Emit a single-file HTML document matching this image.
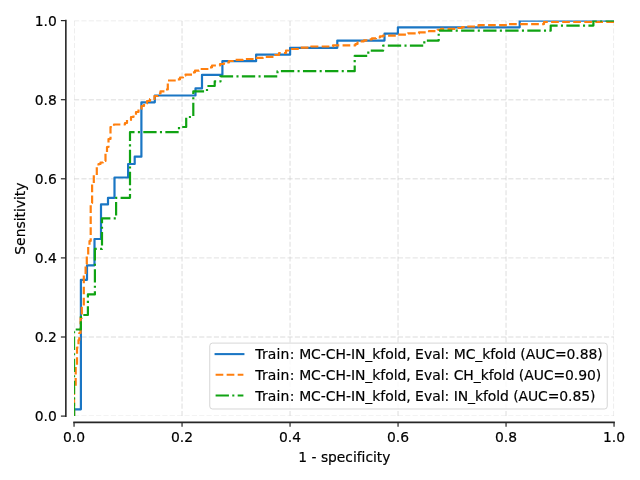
<!DOCTYPE html>
<html lang="en">
<head>
<meta charset="utf-8">
<title>ROC curves</title>
<style>
html,body{margin:0;padding:0;background:#ffffff;}
body{width:640px;height:480px;overflow:hidden;position:relative;font-family:"DejaVu Sans","Liberation Sans",sans-serif;}
</style>
</head>
<body>
<svg width="640" height="480" viewBox="0 0 640 480" style="position:absolute;left:0;top:0;display:block">
<rect x="0" y="0" width="640" height="480" fill="#ffffff"/>
<defs><clipPath id="ax"><rect x="74.05" y="20.6" width="540.0" height="395.50"/></clipPath></defs>
<g clip-path="url(#ax)">
<g fill="none" stroke="#cccccc" stroke-opacity="0.48" stroke-width="1.39" stroke-dasharray="5.14 2.22"><path d="M74.05 416.10 L74.05 20.60"/><path d="M74.05 416.10 L614.05 416.10"/><path d="M182.05 416.10 L182.05 20.60"/><path d="M74.05 337.00 L614.05 337.00"/><path d="M290.05 416.10 L290.05 20.60"/><path d="M74.05 257.90 L614.05 257.90"/><path d="M398.05 416.10 L398.05 20.60"/><path d="M74.05 178.80 L614.05 178.80"/><path d="M506.05 416.10 L506.05 20.60"/><path d="M74.05 99.70 L614.05 99.70"/><path d="M614.05 416.10 L614.05 20.60"/><path d="M74.05 20.60 L614.05 20.60"/></g>
<path d="M74.05 416.10 L74.05 409.30 L80.90 409.30 L80.90 279.80 L87.00 279.80 L87.00 265.30 L94.50 265.30 L94.50 239.00 L101.00 239.00 L101.00 204.40 L108.00 204.40 L108.00 197.80 L114.50 197.80 L114.50 177.50 L128.10 177.50 L128.10 164.00 L134.70 164.00 L134.70 156.70 L141.40 156.70 L141.40 102.30 L154.80 102.30 L154.80 95.50 L195.50 95.50 L195.50 88.40 L202.00 88.40 L202.00 74.80 L222.40 74.80 L222.40 61.20 L256.10 61.20 L256.10 54.70 L290.10 54.70 L290.10 47.80 L337.30 47.80 L337.30 40.60 L384.50 40.60 L384.50 33.70 L397.90 33.70 L397.90 27.30 L519.70 27.30 L519.70 20.60 L614.05 20.60" fill="none" stroke="#1a76c4" stroke-width="2.2" stroke-linejoin="round" stroke-linecap="square"/>
<path d="M74.05 416.10 L74.05 386.00 L75.70 386.00 L75.70 366.00 L77.00 366.00 L77.00 347.50 L78.50 347.50 L78.50 340.00 L79.30 340.00 L79.30 333.00 L80.60 333.00 L80.60 318.00 L81.80 318.00 L81.80 306.00 L83.80 306.00 L83.80 275.00 L85.60 275.00 L85.60 264.00 L86.80 264.00 L86.80 255.00 L88.20 255.00 L88.20 246.00 L89.50 246.00 L89.50 241.00 L90.70 241.00 L90.70 203.00 L92.10 203.00 L92.10 183.00 L93.80 183.00 L93.80 175.00 L96.80 175.00 L96.80 166.00 L98.50 166.00 L98.50 164.00 L100.50 164.00 L100.50 162.50 L103.00 162.50 L103.00 161.00 L105.50 161.00 L105.50 152.00 L107.00 152.00 L107.00 147.00 L108.50 147.00 L108.50 139.00 L110.50 139.00 L110.50 127.00 L114.00 127.00 L114.00 124.50 L125.00 124.50 L125.00 123.00 L127.00 123.00 L127.00 120.00 L131.00 120.00 L131.00 117.00 L133.50 117.00 L133.50 115.00 L136.00 115.00 L136.00 112.00 L138.50 112.00 L138.50 109.00 L141.50 109.00 L141.50 106.00 L144.00 106.00 L144.00 103.50 L147.00 103.50 L147.00 101.00 L150.00 101.00 L150.00 99.00 L154.50 99.00 L154.50 96.00 L158.00 96.00 L158.00 93.50 L160.50 93.50 L160.50 91.30 L165.00 91.30 L165.00 89.50 L167.80 89.50 L167.80 80.50 L177.00 80.50 L177.00 79.30 L180.00 79.30 L180.00 77.50 L183.00 77.50 L183.00 75.60 L185.50 75.60 L185.50 74.70 L192.50 74.70 L192.50 72.30 L195.00 72.30 L195.00 70.70 L199.00 70.70 L199.00 69.00 L209.00 69.00 L209.00 67.30 L212.00 67.30 L212.00 65.50 L220.00 65.50 L220.00 64.00 L224.00 64.00 L224.00 62.50 L229.00 62.50 L229.00 61.00 L233.00 61.00 L233.00 59.80 L243.00 59.80 L243.00 59.00 L255.00 59.00 L255.00 57.80 L263.00 57.80 L263.00 56.80 L275.00 56.80 L275.00 55.00 L279.00 55.00 L279.00 53.00 L286.00 53.00 L286.00 50.50 L288.50 50.50 L288.50 49.00 L300.00 49.00 L300.00 47.60 L311.00 47.60 L311.00 46.50 L333.00 46.50 L333.00 45.30 L355.50 45.30 L355.50 44.00 L357.50 44.00 L357.50 42.50 L360.00 42.50 L360.00 41.30 L364.00 41.30 L364.00 40.30 L369.00 40.30 L369.00 39.30 L372.00 39.30 L372.00 38.30 L376.00 38.30 L376.00 37.30 L380.00 37.30 L380.00 36.30 L383.00 36.30 L383.00 35.60 L398.00 35.60 L398.00 34.70 L408.00 34.70 L408.00 33.40 L419.00 33.40 L419.00 32.40 L429.00 32.40 L429.00 31.10 L437.50 31.10 L437.50 29.80 L441.00 29.80 L441.00 28.80 L458.00 28.80 L458.00 28.00 L462.00 28.00 L462.00 27.20 L466.00 27.20 L466.00 26.50 L478.50 26.50 L478.50 25.20 L509.00 25.20 L509.00 24.10 L544.00 24.10 L544.00 22.00 L614.05 22.00 L614.05 20.60" fill="none" stroke="#ff7f0e" stroke-width="2.2" stroke-linejoin="round" stroke-dasharray="7.71 3.33" stroke-dashoffset="1"/>
<path d="M74.05 416.10 L74.05 329.50 L80.90 329.50 L80.90 315.00 L87.90 315.00 L87.90 294.40 L94.90 294.40 L94.90 248.90 L102.00 248.90 L102.00 218.40 L116.10 218.40 L116.10 197.80 L130.00 197.80 L130.00 132.20 L179.00 132.20 L179.00 127.00 L186.20 127.00 L186.20 117.00 L193.30 117.00 L193.30 91.40 L207.00 91.40 L207.00 86.00 L214.70 86.00 L214.70 81.40 L220.50 81.40 L220.50 76.30 L277.50 76.30 L277.50 71.20 L354.70 71.20 L354.70 55.90 L368.30 55.90 L368.30 50.70 L383.10 50.70 L383.10 45.70 L424.30 45.70 L424.30 40.60 L438.70 40.60 L438.70 30.70 L550.70 30.70 L550.70 25.60 L593.40 25.60 L593.40 20.60 L614.05 20.60" fill="none" stroke="#10a313" stroke-width="2.2" stroke-linejoin="round" stroke-dasharray="13.33 3.33 2.08 3.33"/>
</g>
<g fill="none" stroke="#262626" stroke-width="1.6" stroke-linecap="square"><path d="M65.85 416.10 L65.85 20.60"/><path d="M74.05 422.35 L614.05 422.35"/></g>
<g fill="none" stroke="#262626" stroke-width="1.2"><path d="M74.05 422.35 L74.05 426.7"/><path d="M65.85 416.10 L60.9 416.10"/><path d="M182.05 422.35 L182.05 426.7"/><path d="M65.85 337.00 L60.9 337.00"/><path d="M290.05 422.35 L290.05 426.7"/><path d="M65.85 257.90 L60.9 257.90"/><path d="M398.05 422.35 L398.05 426.7"/><path d="M65.85 178.80 L60.9 178.80"/><path d="M506.05 422.35 L506.05 426.7"/><path d="M65.85 99.70 L60.9 99.70"/><path d="M614.05 422.35 L614.05 426.7"/><path d="M65.85 20.60 L60.9 20.60"/></g>
<g font-family="'DejaVu Sans', 'Liberation Sans', sans-serif" font-size="13.89" fill="#000000" stroke="#000000" stroke-width="0.18"><text x="74.05" y="442.2" text-anchor="middle">0.0</text><text x="56.8" y="421.30" text-anchor="end">0.0</text><text x="182.05" y="442.2" text-anchor="middle">0.2</text><text x="56.8" y="342.20" text-anchor="end">0.2</text><text x="290.05" y="442.2" text-anchor="middle">0.4</text><text x="56.8" y="263.10" text-anchor="end">0.4</text><text x="398.05" y="442.2" text-anchor="middle">0.6</text><text x="56.8" y="184.00" text-anchor="end">0.6</text><text x="506.05" y="442.2" text-anchor="middle">0.8</text><text x="56.8" y="104.90" text-anchor="end">0.8</text><text x="614.05" y="442.2" text-anchor="middle">1.0</text><text x="56.8" y="25.80" text-anchor="end">1.0</text>
<text x="344.4" y="461.9" font-size="13.8" text-anchor="middle" style="font-variant-ligatures:none">1 - specificity</text>
<text transform="translate(25.1 218.6) rotate(-90)" text-anchor="middle">Sensitivity</text>
</g>
<rect x="209.75" y="343.1" width="397.5" height="65.89999999999998" rx="2.8" ry="2.8" fill="#ffffff" fill-opacity="0.8" stroke="#cccccc" stroke-opacity="0.8" stroke-width="1.0"/>
<path d="M215.6 354.1 L243.4 354.1" fill="none" stroke="#1a76c4" stroke-width="2.08" stroke-linecap="square"/>
<text x="255.30" xml:space="preserve" y="359.35" font-family="'DejaVu Sans', 'Liberation Sans', sans-serif" font-size="13.94" fill="#000000" stroke="#000000" stroke-width="0.18"><tspan letter-spacing="0.18">Train: </tspan><tspan letter-spacing="-0.04">MC-CH-IN_kfold, </tspan><tspan>Eval: </tspan><tspan letter-spacing="-0.08">MC_kfold (AUC=0.88)</tspan></text>
<path d="M215.6 374.8 L243.4 374.8" fill="none" stroke="#ff7f0e" stroke-width="2.08" stroke-dasharray="7.71 3.33"/>
<text x="255.30" xml:space="preserve" y="380.05" font-family="'DejaVu Sans', 'Liberation Sans', sans-serif" font-size="13.94" fill="#000000" stroke="#000000" stroke-width="0.18"><tspan letter-spacing="0.18">Train: </tspan><tspan letter-spacing="-0.04">MC-CH-IN_kfold, </tspan><tspan>Eval: </tspan><tspan letter-spacing="-0.08">CH_kfold (AUC=0.90)</tspan></text>
<path d="M215.6 395.5 L243.4 395.5" fill="none" stroke="#10a313" stroke-width="2.08" stroke-dasharray="13.33 3.33 2.08 3.33"/>
<text x="255.30" xml:space="preserve" y="400.75" font-family="'DejaVu Sans', 'Liberation Sans', sans-serif" font-size="13.94" fill="#000000" stroke="#000000" stroke-width="0.18"><tspan letter-spacing="0.18">Train: </tspan><tspan letter-spacing="-0.04">MC-CH-IN_kfold, </tspan><tspan>Eval: </tspan><tspan letter-spacing="-0.08">IN_kfold (AUC=0.85)</tspan></text>
</svg>
</body>
</html>
